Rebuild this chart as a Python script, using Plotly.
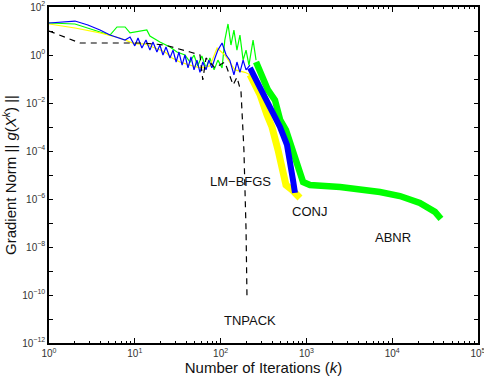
import math
import plotly.graph_objects as go

# ---------------- data (iterations, gradient norm) ----------------
# TNPACK (black dashed)
tn_iter = [1, 2.3, 12.5, 22.5, 44, 57.5, 62, 67.6, 86, 112, 140, 155, 173, 187, 198, 203]
tn_grad = [10, 3.16, 3.16, 2.6, 1.33, 1.0, 0.091, 0.75, 0.29, 0.51, 0.056, 0.12, 0.029, 1.1e-4, 5.1e-8, 8.3e-11]

# LM-BFGS (blue): early oscillating part, then dense descending band
lm_iter = [1, 2.01, 2.84, 3.93, 5.14, 6.4, 7.7, 8.8, 10.0, 10.9, 12.1, 13.5, 15.0, 16.3, 18.1, 19.6,
           21.3, 23.1, 25.7, 27.9, 30.3, 32.7, 35.6, 38.4, 41.7, 45.2, 49.0, 53.0, 57.5, 62, 67.6,
           73, 79, 86, 93, 104, 116, 128, 143, 155, 168, 183, 198, 220]
lm_grad = [21.5, 26, 17.8, 11, 6.8, 5.1, 4.2, 5.6, 2.4, 5.1, 1.95, 4.2, 1.6, 3.5, 1.33, 2.6,
           1.0, 2.15, 0.75, 1.6, 0.51, 1.33, 0.38, 1.0, 0.29, 0.83, 0.24, 0.61, 0.19, 0.51, 0.24,
           0.61, 0.29, 0.75, 1.6, 3.16, 1.0, 0.61, 0.15, 0.51, 0.19, 0.61, 0.24, 0.38]
lm_band_iter = [220, 312, 397, 492, 594, 644, 698, 736]
lm_band_grad = [0.29, 0.026, 5.1e-3, 1e-3, 1.8e-4, 4.2e-5, 6.2e-6, 1.8e-6]

# CONJ (yellow)
cj_iter = [1, 2.01, 3.93, 6.7, 10, 13.1, 17.2, 22.5, 27.2, 33.5, 44, 57.5, 75, 91, 112, 147, 192, 220]
cj_grad = [19.6, 13.3, 8.3, 5.1, 2.9, 2.9, 1.95, 1.33, 0.75, 0.51, 0.38, 0.29, 0.35, 1.95, 1.0, 0.24, 0.19, 0.15]
cj_band_iter = [220, 290, 347, 397, 467, 520, 578, 679, 777, 842]
cj_band_grad = [0.15, 0.021, 3.2e-3, 1e-3, 1.1e-4, 1.6e-5, 3.8e-6, 2.4e-6, 1.5e-6, 1.1e-6]

# ABNR (green)
ab_iter = [1, 2.01, 3.93, 5.14, 6.2, 7.7, 8.8, 11.5, 13.8, 15.0, 19.6, 25.7, 31, 38.4, 44, 49, 54,
           60.5, 67.6, 75, 84, 93, 104, 112, 122, 132, 143, 155, 168, 183, 198, 214, 239, 259]
ab_grad = [21.5, 19.6, 9.1, 6.8, 14.7, 14.7, 8.3, 10, 11, 6.2, 3.5, 2.15, 1.33, 1.0, 0.51, 1.0, 0.35,
           0.91, 0.29, 0.75, 0.24, 0.61, 0.29, 4.2, 19.6, 2.6, 11, 1.6, 6.8, 0.61, 1.6, 0.38, 4.2, 0.61]
ab_band_iter = [259, 300, 356, 430, 494, 578, 679, 777, 842, 915, 1100, 2470, 7200, 12300, 21000, 31500, 37000]
ab_band_grad = [0.51, 0.15, 0.035, 0.0133, 2e-3, 7.5e-4, 1.1e-4, 2.6e-5, 1e-5, 5.1e-6, 3.8e-6, 3.16e-6,
                1.95e-6, 1.33e-6, 6.8e-7, 2.9e-7, 1.5e-7]

# labels
label_text = ["LM\u2212BFGS", "CONJ", "ABNR", "TNPACK"]
label_x = [170, 1100, 10200, 220]
label_y = [5.6e-6, 2.9e-7, 2.6e-8, 8.3e-12]

x_major = [1, 10, 100, 1000, 10000, 100000]
x_major_text = ["10<sup>0</sup>", "10<sup>1</sup>", "10<sup>2</sup>", "10<sup>3</sup>",
                "10<sup>4</sup>", "10<sup>5</sup>"]
x_minor = [m * 10 ** k for k in range(5) for m in range(2, 10)]
y_ticks = [10.0 ** e for e in range(-12, 3)]
y_text = [("10<sup>%s</sup>" % (str(e).replace("-", "\u2212")) if e % 2 == 0 else "")
          for e in range(-12, 3)]

FONT = "Liberation Sans, Arial, Helvetica, sans-serif"

fig = go.Figure()

def add(x, y, color, width, dash=None):
    fig.add_trace(go.Scatter(x=x, y=y, mode="lines",
                             line=dict(color=color, width=width, dash=dash),
                             showlegend=False, hoverinfo="skip"))

add(ab_iter, ab_grad, "#00FF00", 1.2)
add(ab_band_iter, ab_band_grad, "#00FF00", 6.5)
add(cj_iter, cj_grad, "#FFFF00", 1.2)
add(cj_band_iter, cj_band_grad, "#FFFF00", 7)
add(lm_iter, lm_grad, "#0000FF", 1.2)
add(lm_band_iter, lm_band_grad, "#0000FF", 6)
add(tn_iter, tn_grad, "black", 1.2, dash="6px,5px")

for t, x, y in zip(label_text, label_x, label_y):
    fig.add_annotation(x=math.log10(x), y=math.log10(y), text=t,
                       showarrow=False, font=dict(family=FONT, size=13, color="#111"))

fig.update_layout(
    width=484, height=381,
    margin=dict(l=49, r=6, t=7, b=38, autoexpand=False),
    paper_bgcolor="white", plot_bgcolor="white",
    font=dict(family=FONT, color="#222"),
    xaxis=dict(type="log", range=[0, 5], tickvals=x_major, ticktext=x_major_text,
               ticks="inside", ticklen=5, tickwidth=1, tickcolor="black", automargin=False,
               ticklabeloverflow="allow",
               showline=True, linewidth=1.6, linecolor="black", mirror="ticks",
               showgrid=False, zeroline=False, tickfont=dict(size=10, color="#333"),
               minor=dict(tickvals=x_minor, ticks="inside", ticklen=2.5, tickcolor="black", showgrid=False),
               title=dict(text="Number of Iterations (<i>k</i>)", font=dict(size=15, color="#111"), standoff=4)),
    yaxis=dict(type="log", range=[-12, 2], tickvals=y_ticks, ticktext=y_text,
               ticks="inside", ticklen=4, tickwidth=1, tickcolor="black", automargin=False,
               ticklabeloverflow="allow",
               showline=True, linewidth=1.6, linecolor="black", mirror="ticks",
               showgrid=False, zeroline=False, tickfont=dict(size=10, color="#333"),
               title=dict(text="Gradient Norm || <i>g</i>(<i>X</i><sup><i>k</i></sup>) ||",
                          font=dict(size=15, color="#111"), standoff=2)),
)

fig.write_html("out.html")
